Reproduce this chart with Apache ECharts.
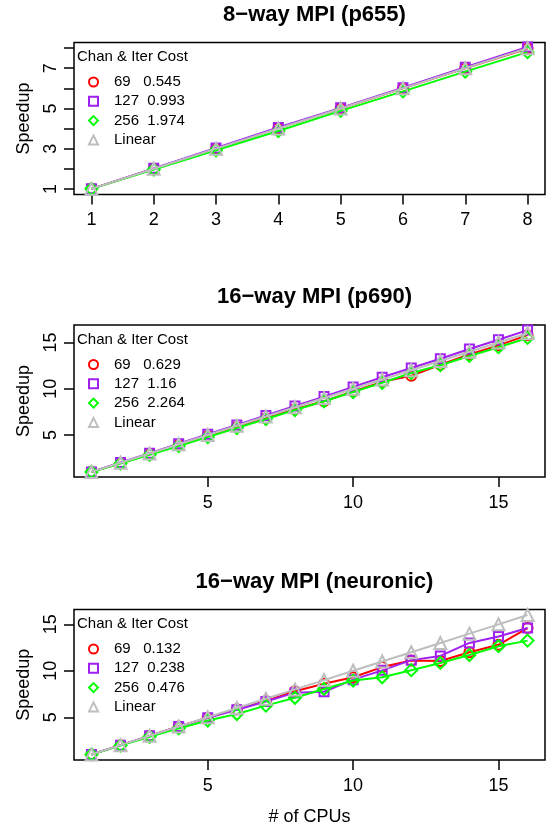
<!DOCTYPE html>
<html>
<head>
<meta charset="utf-8">
<script src="https://cdn.jsdelivr.net/npm/echarts@6/dist/echarts.min.js"></script>
<style>html,body{margin:0;padding:0;background:#fff;}#c{width:553px;height:827px;}</style>
</head>
<body>
<div id="c"></div>
<script>
// ---- data ----
const cpus8 = [1, 2, 3, 4, 5, 6, 7, 8];
const cpus16 = [1, 2, 3, 4, 5, 6, 7, 8, 9, 10, 11, 12, 13, 14, 15, 16];

const titles = ['8\u2212way MPI (p655)', '16\u2212way MPI (p690)', '16\u2212way MPI (neuronic)'];
const legendTitle = 'Chan & Iter Cost';
const legendP655 = ['69   0.545', '127  0.993', '256  1.974', 'Linear'];
const legendP690 = ['69   0.629', '127  1.16', '256  2.264', 'Linear'];
const legendNeuronic = ['69   0.132', '127  0.238', '256  0.476', 'Linear'];

const p655_69 = [1, 2, 3, 4.02, 5, 6, 7, 7.98];
const p655_127 = [1, 2.02, 3.03, 4.05, 5.03, 6.03, 7.05, 8.06];
const p655_256 = [1, 1.96, 2.92, 3.88, 4.88, 5.85, 6.83, 7.8];
const p655_lin = [1, 2, 3, 4, 5, 6, 7, 8];

const p690_69 = [1, 1.95, 2.92, 3.9, 4.88, 5.85, 6.8, 7.78, 8.65, 9.7, 10.75, 11.4, 12.6, 13.7, 14.7, 15.8];
const p690_127 = [1, 2.02, 3.03, 4.05, 5.07, 6.08, 7.1, 8.13, 9.15, 10.2, 11.25, 12.25, 13.25, 14.3, 15.3, 16.35];
const p690_256 = [1, 1.9, 2.85, 3.8, 4.78, 5.75, 6.72, 7.7, 8.65, 9.65, 10.65, 11.7, 12.55, 13.55, 14.5, 15.5];
const p690_lin = [1, 2, 3, 4, 5, 6, 7, 8, 9, 10, 11, 12, 13, 14, 15, 16];

const neu_69 = [1, 2, 3, 4, 4.95, 5.85, 6.75, 7.8, 8.6, 9.3, 10.4, 11.1, 11.05, 12.0, 12.8, 14.6];
const neu_127 = [1, 2, 3, 4, 4.95, 5.8, 6.7, 7.65, 7.75, 9.05, 10.05, 11.15, 11.6, 13.0, 13.7, 14.6];
const neu_256 = [1, 1.95, 2.9, 3.8, 4.65, 5.35, 6.25, 7.1, 8.05, 8.95, 9.3, 10.07, 10.85, 11.7, 12.65, 13.25];
const neu_lin = [1, 2, 3, 4, 5, 6, 7, 8, 9, 10, 11, 12, 13, 14, 15, 16];

const ticks8x = [1, 2, 3, 4, 5, 6, 7, 8];
const ticks8y = [1, 2, 3, 4, 5, 6, 7, 8];
const labels8y = [1, 3, 5, 7];
const ticks16 = [5, 10, 15];

// ---- styling ----
const FONT = 'Liberation Sans, Arial, Helvetica, sans-serif';
const colors = ['#FF0000', '#A020F0', '#00FF00', '#BEBEBE'];
const symbols = ['circle', 'rect', 'diamond', 'triangle'];
const symSizes = [10, 9, 12, 12];

const gridTops = [42.5, 325, 609.5];
const gridH = 152;
const gridLeft = 74, gridW = 471;

const panels = [
  {x: cpus8, series: [p655_69, p655_127, p655_256, p655_lin], names: legendP655,
   xmin: 0.72, xmax: 8.28, ymin: 0.72, ymax: 8.28, xt: ticks8x, xl: ticks8x, yt: ticks8y, yl: labels8y},
  {x: cpus16, series: [p690_69, p690_127, p690_256, p690_lin], names: legendP690,
   xmin: 0.4, xmax: 16.6, ymin: 0.45, ymax: 16.9, xt: ticks16, xl: ticks16, yt: ticks16, yl: ticks16},
  {x: cpus16, series: [neu_69, neu_127, neu_256, neu_lin], names: legendNeuronic,
   xmin: 0.4, xmax: 16.6, ymin: 0.4, ymax: 16.6, xt: ticks16, xl: ticks16, yt: ticks16, yl: ticks16}
];

const option = {
  backgroundColor: '#fff',
  animation: false,
  textStyle: {fontFamily: FONT},
  title: [], grid: [], xAxis: [], yAxis: [], legend: [], series: []
};

panels.forEach((p, i) => {
  const top = gridTops[i];
  option.grid.push({left: gridLeft, top: top, width: gridW, height: gridH,
    show: true, borderColor: '#000', borderWidth: 1.5, backgroundColor: 'transparent', containLabel: false});
  option.title.push({text: titles[i], left: gridLeft + gridW / 2, textAlign: 'center', top: top - 44,
    textStyle: {fontFamily: FONT, fontSize: 22, fontWeight: 'bold', color: '#000'}});
  option.title.push({text: legendTitle, left: 77, top: top + 7,
    textStyle: {fontFamily: FONT, fontSize: 15, fontWeight: 'normal', color: '#000'}, padding: 0});
  option.xAxis.push({type: 'value', gridIndex: i, min: p.xmin, max: p.xmax,
    name: i === 2 ? '# of CPUs' : '', nameLocation: 'middle', nameGap: 48,
    nameTextStyle: {fontFamily: FONT, fontSize: 18, color: '#000'},
    axisLine: {show: false}, splitLine: {show: false},
    axisTick: {show: true, inside: false, length: 10, customValues: p.xt, lineStyle: {color: '#000', width: 1.5}},
    axisLabel: {show: true, customValues: p.xl, margin: 17, fontFamily: FONT, fontSize: 18, color: '#000'}});
  option.yAxis.push({type: 'value', gridIndex: i, min: p.ymin, max: p.ymax,
    name: 'Speedup', nameLocation: 'middle', nameGap: 41, nameRotate: 90,
    nameTextStyle: {fontFamily: FONT, fontSize: 18, color: '#000'},
    axisLine: {show: false}, splitLine: {show: false},
    axisTick: {show: true, inside: false, length: 10, customValues: p.yt, lineStyle: {color: '#000', width: 1.5}},
    axisLabel: {show: true, customValues: p.yl, rotate: 90, margin: 14, fontFamily: FONT, fontSize: 18, color: '#000'}});
  const legData = [];
  p.series.forEach((vals, k) => {
    option.series.push({
      type: 'line', name: p.names[k], xAxisIndex: i, yAxisIndex: i,
      data: p.x.map((xv, j) => [xv, vals[j]]),
      symbol: symbols[k], symbolSize: symSizes[k], showSymbol: true,
      itemStyle: {color: 'rgba(0,0,0,0)', borderColor: colors[k], borderWidth: 2},
      lineStyle: {color: colors[k], width: 2},
      emphasis: {disabled: true}, z: 2 + k
    });
    legData.push({name: p.names[k], icon: symbols[k],
      itemStyle: {color: 'rgba(0,0,0,0)', borderColor: colors[k], borderWidth: 2}});
  });
  option.legend.push({orient: 'vertical', left: 83, top: top + 27, itemWidth: 9, itemHeight: 9, itemGap: 4.3,
    selectedMode: false, data: legData,
    textStyle: {fontFamily: FONT, fontSize: 15, color: '#000', padding: [0, 0, 0, 11]}});
});

const chart = echarts.init(document.getElementById('c'), null, {renderer: 'canvas'});
chart.setOption(option);
</script>
</body>
</html>
